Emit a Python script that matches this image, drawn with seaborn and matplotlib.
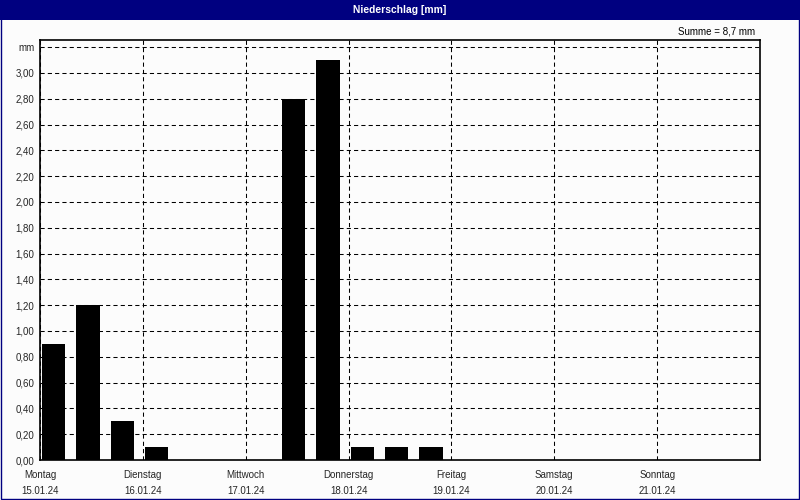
# Niederschlag [mm] - weekly precipitation chart

import pandas as pd
import matplotlib
matplotlib.use("Agg")
import matplotlib.pyplot as plt
from matplotlib.patches import Rectangle
import seaborn as sns

# --------------------------------------------
# Data
# --------------------------------------------
days = ["Montag", "Dienstag", "Mittwoch", "Donnerstag", "Freitag", "Samstag", "Sonntag"]
dates = ["15.01.24", "16.01.24", "17.01.24", "18.01.24", "19.01.24", "20.01.24", "21.01.24"]

# three 8-hour slots per day
slots = list(range(21))
precip = [0.9, 1.2, 0.3,
          0.1, 0.0, 0.0,
          0.0, 2.8, 3.1,
          0.1, 0.1, 0.1,
          0.0, 0.0, 0.0,
          0.0, 0.0, 0.0,
          0.0, 0.0, 0.0]

ytick_vals = [0.0, 0.2, 0.4, 0.6, 0.8, 1.0, 1.2, 1.4, 1.6, 1.8,
              2.0, 2.2, 2.4, 2.6, 2.8, 3.0, 3.2]

df = pd.DataFrame({"slot": slots, "mm": precip})
total = sum(precip)

# --------------------------------------------
# Style
# --------------------------------------------
sns.set_style("white")
plt.rcParams["font.family"] = ["Liberation Sans", "DejaVu Sans"]

navy = "#000080"

fig = plt.figure(figsize=(8, 5), dpi=100, facecolor="#fcfcfc")
ax = fig.add_axes([0.05, 0.08, 0.9, 0.84])
ax.set_facecolor("#fcfcfc")

# title bar + frame
fig.patches.append(Rectangle((0, 0.96), 1, 0.04, transform=fig.transFigure,
                             facecolor=navy, edgecolor="none", zorder=0))
fig.patches.append(Rectangle((0.0008, 0.0012), 0.9984, 0.998, transform=fig.transFigure,
                             facecolor="none", edgecolor=navy, linewidth=1.0, zorder=1))
fig.text(0.5, 0.98, "Niederschlag [mm]", color="white", fontweight="bold",
         fontsize=7.4, ha="center", va="center")
fig.text(755 / 800, 1 - 31 / 500, f"Summe = {total:.1f} mm".replace(".", ","),
         fontsize=7, ha="right", va="center", color="black")

# --------------------------------------------
# Bars
# --------------------------------------------
sns.barplot(data=df, x="slot", y="mm", color="black", width=0.68,
            saturation=1, linewidth=0, ax=ax, zorder=3)

ax.set_xlim(-0.4, 20.6)
ax.set_ylim(0, 3.255)

# day gridlines
day_pos = [-0.4 + 3 * k for k in range(7)]
ax.set_xticks(day_pos)
ax.set_xticklabels([f"{d}\n{t}" for d, t in zip(days, dates)], fontsize=7)
for lbl in ax.get_xticklabels():
    lbl.set_linespacing(1.75)

ax.set_yticks(ytick_vals)
ylabels = [f"{v:.2f}".replace(".", ",") for v in ytick_vals]
ylabels[-1] = "mm"
ax.set_yticklabels(ylabels, fontsize=7)

ax.grid(True, color="black", linewidth=0.75, linestyle=(0, (4, 3)), zorder=1)
ax.set_axisbelow(True)

ax.tick_params(axis="x", length=2.2, width=0.75, color="black", pad=5, direction="out")
ax.tick_params(axis="y", length=3, width=0.75, color="black", pad=1, direction="out")
for s in ax.spines.values():
    s.set_color("black")
    s.set_linewidth(1.2)
    s.set_visible(True)

ax.set_xlabel("")
ax.set_ylabel("")

fig.savefig("out.png", dpi=100, facecolor=fig.get_facecolor())
